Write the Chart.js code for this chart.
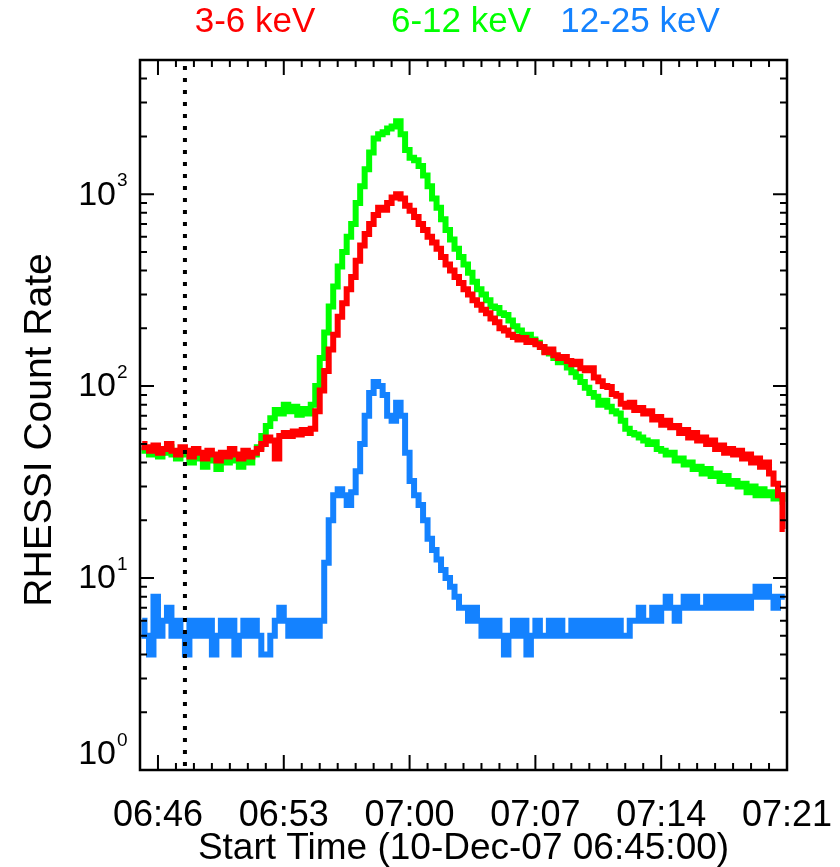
<!DOCTYPE html>
<html>
<head>
<meta charset="utf-8">
<title>RHESSI Count Rate</title>
<script src="https://cdn.jsdelivr.net/npm/chart.js@4/dist/chart.umd.min.js"></script>
<style>
  html, body { margin: 0; padding: 0; background: #fff; }
  #wrap { width: 840px; height: 867px; }
</style>
</head>
<body>
<div id="wrap"><canvas id="rhessi" width="840" height="867"></canvas></div>
<script>
// 15 s bins starting 06:45:00, x is minutes after start
const binMinutes = 0.25;

// 3-6 keV
const rate3to6 = [
  50, 48, 46, 49, 45, 47, 50, 46, 44, 48, 46, 43,
  47, 45, 42, 46, 44, 41, 45, 43, 47, 44, 42, 46,
  43, 45, 47, 50, 54, 52, 42, 55, 57, 55, 58, 56,
  59, 57, 60, 74, 95, 120, 155, 185, 230, 270, 320, 370,
  450, 540, 620, 700, 780, 850, 830, 900, 960, 1000, 950, 870,
  820, 760, 700, 650, 600, 560, 520, 470, 430, 400, 370, 345,
  320, 300, 280, 265, 250, 240, 225, 215, 200, 195, 185, 180,
  175, 178, 170, 172, 165, 160, 150, 155, 145, 140, 142, 135,
  130, 134, 124, 121, 124, 111, 106, 100, 99, 91, 89, 81,
  78, 82, 75, 77, 72, 74, 67, 69, 63, 66, 61, 62,
  57, 59, 54, 57, 52, 54, 50, 52, 47, 49, 45, 47,
  44, 46, 42, 44, 40, 42, 38, 40, 35, 31, 27, 18
];

// 6-12 keV
const rate6to12 = [
  48, 46, 44, 47, 43, 45, 48, 44, 42, 46, 44, 40,
  45, 42, 38, 43, 41, 37, 42, 40, 44, 41, 38, 43,
  40, 44, 48, 55, 62, 68, 75, 72, 80, 74, 78, 71,
  76, 72, 80, 100, 140, 190, 260, 330, 420, 500, 600, 700,
  900, 1100, 1350, 1650, 1950, 2050, 2100, 2200, 2250, 2400, 2050, 1700,
  1550, 1500, 1400, 1250, 1100, 950, 850, 740, 650, 580, 520, 470,
  430, 390, 350, 320, 300, 280, 260, 255, 240, 235, 220, 205,
  195, 182, 185, 175, 168, 160, 152, 148, 140, 133, 135, 125,
  118, 112, 105, 98, 92, 88, 80, 84, 78, 74, 72, 66,
  60, 57, 56, 54, 52, 50, 51, 47, 46, 44, 45, 41,
  42, 39, 40, 37, 38, 35, 37, 34, 35, 32, 34, 31,
  32, 30, 31, 28, 30, 27, 29, 27, 28, 26, 27, 25
];

// 12-25 keV
const rate12to25 = [
  6, 5, 4, 8, 5, 6, 7, 5, 6, 5, 4, 6,
  5, 6, 5, 6, 4, 5, 6, 5, 6, 4, 5, 6,
  5, 6, 5, 4, 4, 5, 6, 7, 6, 5, 6, 5,
  6, 5, 6, 5, 6, 12, 20, 27, 29, 27, 24, 28,
  36, 50, 70, 92, 105, 100, 90, 70, 66, 82, 70, 45,
  32, 27, 24, 20, 16, 14, 12.5, 11, 10, 9, 8, 7,
  7, 6, 7, 6, 5, 6, 5, 6, 5, 4, 5, 6,
  5, 6, 4, 5, 6, 5, 5, 6, 5, 6, 5, 5,
  6, 5, 6, 5, 6, 5, 6, 5, 6, 5, 6, 5,
  5, 6, 6, 7, 6, 6, 7, 6, 7, 8, 7, 6,
  7, 8, 7, 8, 7, 7, 8, 7, 8, 7, 8, 7,
  8, 7, 8, 7, 8, 9, 8, 9, 8, 7, 8, 8
];

const tickMinutes = [1, 8, 15, 22, 29, 36];
const tickLabels = ['06:46', '06:53', '07:00', '07:07', '07:14', '07:21'];
const decadeTicks = [1, 10, 100, 1000];
const markerMinute = 2.5;   // dotted line at 06:47:30
const bandLabelX = [255, 461, 640];

const FONT = 'Liberation Sans, Arial, Helvetica, sans-serif';

function toPoints(values) {
  return values.map((v, i) => ({ x: (i + 0.5) * binMinutes, y: v }));
}

function series(label, values, color, order) {
  return {
    label: label,
    data: toPoints(values),
    borderColor: color,
    backgroundColor: color,
    borderWidth: 6,
    pointRadius: 0,
    stepped: 'middle',
    fill: false,
    order: order
  };
}

// IDL style box: inward ticks on all four sides, dotted marker, band labels on top
const boxPlugin = {
  id: 'boxPlugin',
  afterDatasetsDraw(chart) {
    const ctx = chart.ctx;
    const a = chart.chartArea;
    const x = chart.scales.x;
    const y = chart.scales.y;
    ctx.save();
    ctx.strokeStyle = '#000';
    ctx.fillStyle = '#000';

    // dotted vertical marker
    const mx = x.getPixelForValue(markerMinute);
    ctx.lineWidth = 4;
    ctx.setLineDash([4, 8]);
    ctx.beginPath();
    ctx.moveTo(mx, a.top + 6);
    ctx.lineTo(mx, a.bottom);
    ctx.stroke();
    ctx.setLineDash([]);

    // frame
    ctx.lineWidth = 2.5;
    ctx.strokeRect(a.left, a.top, a.right - a.left, a.bottom - a.top);

    // minute ticks, long ones at the labelled times
    ctx.lineWidth = 2;
    ctx.beginPath();
    for (let m = x.min; m <= x.max; m++) {
      const px = x.getPixelForValue(m);
      const len = tickMinutes.includes(m) ? 15 : 7;
      ctx.moveTo(px, a.bottom);
      ctx.lineTo(px, a.bottom - len);
      ctx.moveTo(px, a.top);
      ctx.lineTo(px, a.top + len);
    }
    // log ticks
    decadeTicks.forEach(d => {
      for (let k = 1; k <= 9; k++) {
        const v = k * d;
        if (v > y.max) break;
        const py = y.getPixelForValue(v);
        const len = k === 1 ? 14 : 7;
        ctx.moveTo(a.left, py);
        ctx.lineTo(a.left + len, py);
        ctx.moveTo(a.right, py);
        ctx.lineTo(a.right - len, py);
      }
    });
    ctx.stroke();

    // 10^n labels
    decadeTicks.forEach((d, n) => {
      let py = y.getPixelForValue(d);
      if (py > a.bottom - 16) py = a.bottom - 16;
      ctx.font = '34px ' + FONT;
      ctx.textAlign = 'right';
      ctx.textBaseline = 'middle';
      ctx.fillText('10', 116, py + 1);
      ctx.font = '19px ' + FONT;
      ctx.textAlign = 'left';
      ctx.fillText(String(n), 117, py - 13);
    });

    // y axis title
    ctx.save();
    ctx.translate(40, (a.top + a.bottom) / 2 + 15);
    ctx.rotate(-Math.PI / 2);
    ctx.font = '39px ' + FONT;
    ctx.textAlign = 'center';
    ctx.textBaseline = 'middle';
    ctx.fillText('RHESSI Count Rate', 0, 0);
    ctx.restore();

    // energy band labels
    ctx.font = '35px ' + FONT;
    ctx.textAlign = 'center';
    ctx.textBaseline = 'middle';
    chart.data.datasets.forEach((ds, i) => {
      ctx.fillStyle = ds.borderColor;
      ctx.fillText(ds.label, bandLabelX[i], 22);
    });
    ctx.restore();
  }
};

new Chart(document.getElementById('rhessi'), {
  type: 'line',
  data: {
    datasets: [
      series('3-6 keV', rate3to6, '#ff0000', 2),
      series('6-12 keV', rate6to12, '#00ff00', 3),
      series('12-25 keV', rate12to25, '#1482ff', 1)
    ]
  },
  options: {
    responsive: false,
    animation: false,
    layout: { padding: { top: 60, right: 53, left: 0, bottom: 0 } },
    plugins: {
      legend: { display: false },
      tooltip: { enabled: false }
    },
    scales: {
      x: {
        type: 'linear',
        min: 0,
        max: 36,
        grid: { display: false, drawTicks: false },
        border: { display: false },
        afterBuildTicks: s => { s.ticks = tickMinutes.map(v => ({ value: v })); },
        afterFit: s => {
          s.height = 97;
          // end labels may hang past the box
          s.paddingLeft = 0;
          s.paddingRight = 0;
        },
        ticks: {
          autoSkip: false,
          maxRotation: 0,
          padding: 24,
          color: '#000',
          font: { family: FONT, size: 36 },
          callback: v => tickLabels[tickMinutes.indexOf(v)]
        },
        title: {
          display: true,
          text: 'Start Time (10-Dec-07 06:45:00)',
          color: '#000',
          font: { family: FONT, size: 37, lineHeight: 1.0 },
          padding: { top: 0, bottom: 0 }
        }
      },
      y: {
        type: 'logarithmic',
        min: 1,
        max: 5000,
        grid: { display: false },
        border: { display: false },
        ticks: { display: false },
        afterFit: s => { s.width = 140; }
      }
    }
  },
  plugins: [boxPlugin]
});
</script>
</body>
</html>
